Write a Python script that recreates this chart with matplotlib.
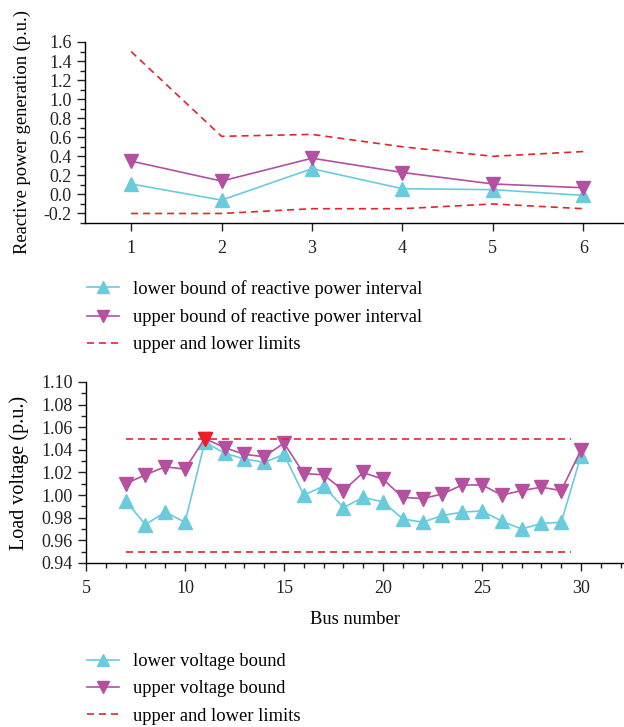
import numpy as np
import matplotlib
matplotlib.use('Agg')
import matplotlib.pyplot as plt
from matplotlib.ticker import MultipleLocator

### data: reactive power per generator
gen = [1, 2, 3, 4, 5, 6]
q_low = [0.11, -0.06, 0.27, 0.06, 0.05, -0.01]
q_up = [0.35, 0.14, 0.38, 0.23, 0.11, 0.07]
q_max = [1.50, 0.61, 0.63, 0.50, 0.40, 0.45]
q_min = [-0.20, -0.20, -0.15, -0.15, -0.10, -0.15]

### data: load voltage per bus
bus = list(range(7, 31))
v_low = [0.995, 0.974, 0.985, 0.976, 1.047, 1.037, 1.032, 1.029, 1.036, 1.000,
         1.008, 0.989, 0.998, 0.994, 0.979, 0.976, 0.982, 0.985, 0.986, 0.977,
         0.970, 0.975, 0.976, 1.035]
v_up = [1.010, 1.018, 1.025, 1.023, 1.050, 1.042, 1.036, 1.034, 1.046, 1.019,
        1.018, 1.004, 1.020, 1.014, 0.998, 0.997, 1.001, 1.009, 1.009, 1.000,
        1.004, 1.007, 1.004, 1.040]
lim_bus = [7, 29.5]
v_max = [1.05, 1.05]
v_min = [0.95, 0.95]
red_bus = [11]
red_v = [1.050]

cyan = '#6acbdd'
mag = '#b4509f'
red = '#e0262b'
dash = (0, (4.2, 3.0))

plt.rcParams['font.family'] = ['Liberation Serif', 'DejaVu Serif']
plt.rcParams['font.size'] = 13.3
plt.rcParams['axes.linewidth'] = 1.0

fig = plt.figure(figsize=(6.24, 7.27), dpi=100)

def style(ax):
    ax.spines['top'].set_visible(False)
    ax.spines['right'].set_visible(False)
    ax.tick_params(which='major', direction='out', length=6, width=1, colors='#222222',
                   labelcolor='#222222', labelsize=13)
    ax.tick_params(which='minor', direction='out', length=3.5, width=1, colors='#222222')

leg_kw = dict(loc='upper left', frameon=False, borderpad=0, borderaxespad=0,
              handlelength=1.75, handletextpad=0.75, labelspacing=0.56,
              numpoints=1, markerscale=0.8)

### top plot
ax1 = fig.add_axes([85/624, 1-223/727, 539/624, 181/727])
style(ax1)
ax1.plot(gen, q_low, color=cyan, lw=1.2, marker='^', ms=10, label='lower bound of reactive power interval')
ax1.plot(gen, q_up, color=mag, lw=1.2, marker='v', ms=10, label='upper bound of reactive power interval')
ax1.plot(gen, q_max, color=red, lw=1.2, ls=dash, label='upper and lower limits')
ax1.plot(gen, q_min, color=red, lw=1.2, ls=dash)
ax1.set_xlim(0.49, 6.45)
ax1.set_ylim(-0.3, 1.6)
ax1.set_xticks(gen)
ax1.set_yticks(np.arange(-0.2, 1.61, 0.2))
ax1.set_yticklabels(['%.1f' % v for v in np.arange(-0.2, 1.61, 0.2)])
ax1.yaxis.set_minor_locator(MultipleLocator(0.1))
ax1.set_ylabel('Reactive power generation (p.u.)', labelpad=9)
ax1.tick_params(axis='x', pad=6)
fig.legend(*ax1.get_legend_handles_labels(), bbox_to_anchor=(87/624, 1-280/727), **leg_kw)

### bottom plot
ax2 = fig.add_axes([86/624, 1-563/727, 538/624, 181/727])
style(ax2)
ax2.plot(bus, v_low, color=cyan, lw=1.2, marker='^', ms=10, label='lower voltage bound')
ax2.plot(bus, v_up, color=mag, lw=1.2, marker='v', ms=10, label='upper voltage bound')
ax2.plot(lim_bus, v_max, color=red, lw=1.2, ls=dash, label='upper and lower limits')
ax2.plot(lim_bus, v_min, color=red, lw=1.2, ls=dash)
ax2.plot(red_bus, red_v, ls='none', marker='v', ms=10, color='#ee1c24')
ax2.set_xlim(5, 32.17)
ax2.set_ylim(0.94, 1.10)
ax2.set_xticks([5, 10, 15, 20, 25, 30])
ax2.xaxis.set_minor_locator(MultipleLocator(1))
ax2.set_yticks(np.arange(0.94, 1.101, 0.02))
ax2.set_yticklabels(['%.2f' % v for v in np.arange(0.94, 1.101, 0.02)])
ax2.yaxis.set_minor_locator(MultipleLocator(0.01))
ax2.set_ylabel('Load voltage (p.u.)', labelpad=9, fontsize=14.5)
ax2.set_xlabel('Bus number', labelpad=10)
ax2.tick_params(axis='x', pad=6)
fig.legend(*ax2.get_legend_handles_labels(), bbox_to_anchor=(87/624, 1-653/727), **leg_kw)

plt.savefig('out.png', dpi=100)
